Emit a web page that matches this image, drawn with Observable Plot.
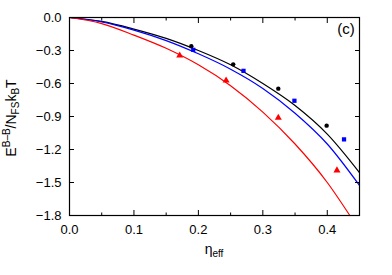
<!DOCTYPE html>
<html><head><meta charset="utf-8">
<script src="https://cdn.jsdelivr.net/npm/d3@7"></script>
<script src="https://cdn.jsdelivr.net/npm/@observablehq/plot@0.6"></script>
<style>body{margin:0;background:#fff} svg{font-family:"Liberation Sans",Arial,sans-serif}</style>
</head><body><div id="chart"></div>
<script>
const curveEta = [0, 0.05, 0.1, 0.15, 0.2, 0.25, 0.3, 0.35, 0.4, 0.45];
const blackCurve = [0, -0.035, -0.105, -0.19, -0.30, -0.43, -0.60, -0.80, -1.06, -1.41];
const blueCurve = [0, -0.04, -0.115, -0.21, -0.33, -0.47, -0.645, -0.87, -1.15, -1.527];
const redEta = [0, 0.05, 0.1, 0.15, 0.2, 0.25, 0.3, 0.35, 0.4, 0.435];
const redCurve = [0, -0.055, -0.16, -0.28, -0.43, -0.62, -0.86, -1.15, -1.50, -1.8];
const blackPtsEta = [0.189, 0.254, 0.324, 0.399];
const blackPts = [-0.262, -0.426, -0.647, -0.983];
const bluePtsEta = [0.192, 0.270, 0.349, 0.426];
const bluePts = [-0.294, -0.485, -0.757, -1.108];
const redPtsEta = [0.171, 0.243, 0.324, 0.415];
const redPts = [-0.345, -0.573, -0.912, -1.39];
const xTicks = [0, 0.1, 0.2, 0.3, 0.4];
const xMinor = [0.05, 0.15, 0.25, 0.35, 0.45];
const yTicks = [0, -0.3, -0.6, -0.9, -1.2, -1.5, -1.8];

const zip = (xs, ys) => xs.map((x, i) => ({x, y: ys[i]}));
const blank = () => "";
const fmt = d3.format(".1f");

const plot = Plot.plot({
  width: 392, height: 275,
  marginLeft: 69, marginRight: 33, marginTop: 17, marginBottom: 60,
  style: {fontFamily: '"Liberation Sans", Arial, sans-serif', fontSize: "13px", color: "black", background: "white"},
  x: {domain: [0, 0.45]},
  y: {domain: [-1.8, 0]},
  marks: [
    Plot.line(zip(curveEta, blackCurve), {x: "x", y: "y", stroke: "black", strokeWidth: 1.2, curve: "monotone-x"}),
    Plot.line(zip(curveEta, blueCurve), {x: "x", y: "y", stroke: "#0000ff", strokeWidth: 1.2, curve: "monotone-x"}),
    Plot.line(zip(redEta, redCurve), {x: "x", y: "y", stroke: "#ff0000", strokeWidth: 1.2, curve: "monotone-x"}),
    Plot.dot(zip(blackPtsEta, blackPts), {x: "x", y: "y", fill: "black", r: 2.2}),
    Plot.dot(zip(bluePtsEta, bluePts), {x: "x", y: "y", fill: "#0000ff", symbol: "square", r: 2.4}),
    Plot.dot(zip(redPtsEta, redPts), {x: "x", y: "y", fill: "#ff0000", symbol: "triangle", r: 2.6}),
    Plot.axisX(xTicks, {anchor: "bottom", tickSize: -5, tickPadding: 14, tickFormat: fmt, label: null, fontSize: 13}),
    Plot.axisX(xMinor, {anchor: "bottom", tickSize: -2.5, tickFormat: blank, label: null}),
    Plot.axisX(xTicks, {anchor: "top", tickSize: -5, tickFormat: blank, label: null}),
    Plot.axisX(xMinor, {anchor: "top", tickSize: -2.5, tickFormat: blank, label: null}),
    Plot.axisY(yTicks, {anchor: "left", tickSize: -5, tickPadding: 13, tickFormat: fmt, label: null, fontSize: 13}),
    Plot.axisY(yTicks, {anchor: "right", tickSize: -5, tickFormat: blank, label: null}),
    Plot.frame({stroke: "black", strokeWidth: 1.2})
  ]
});
document.getElementById("chart").appendChild(plot);

const svg = d3.select(plot);
// panel label
svg.append("text").attr("x", 346).attr("y", 34).attr("text-anchor", "middle")
  .attr("font-size", 15).attr("fill", "black").text("(c)");
// x label
const xl = svg.append("text").attr("x", 214).attr("y", 254).attr("text-anchor", "middle")
  .attr("font-size", 14).attr("fill", "black");
xl.append("tspan").text("η");
xl.append("tspan").attr("font-size", 10).attr("dy", 3).text("eff");
// y label
const yl = svg.append("text").attr("transform", "translate(16,118) rotate(-90)")
  .attr("text-anchor", "middle").attr("font-size", 14).attr("fill", "black");
yl.append("tspan").text("E");
yl.append("tspan").attr("font-size", 10).attr("dy", -6).text("B–B");
yl.append("tspan").attr("dy", 6).text("/N");
yl.append("tspan").attr("font-size", 10).attr("dy", 3).text("FS");
yl.append("tspan").attr("dy", -3).text("k");
yl.append("tspan").attr("font-size", 10).attr("dy", 3).text("B");
yl.append("tspan").attr("dy", -3).text("T");
</script></body></html>
